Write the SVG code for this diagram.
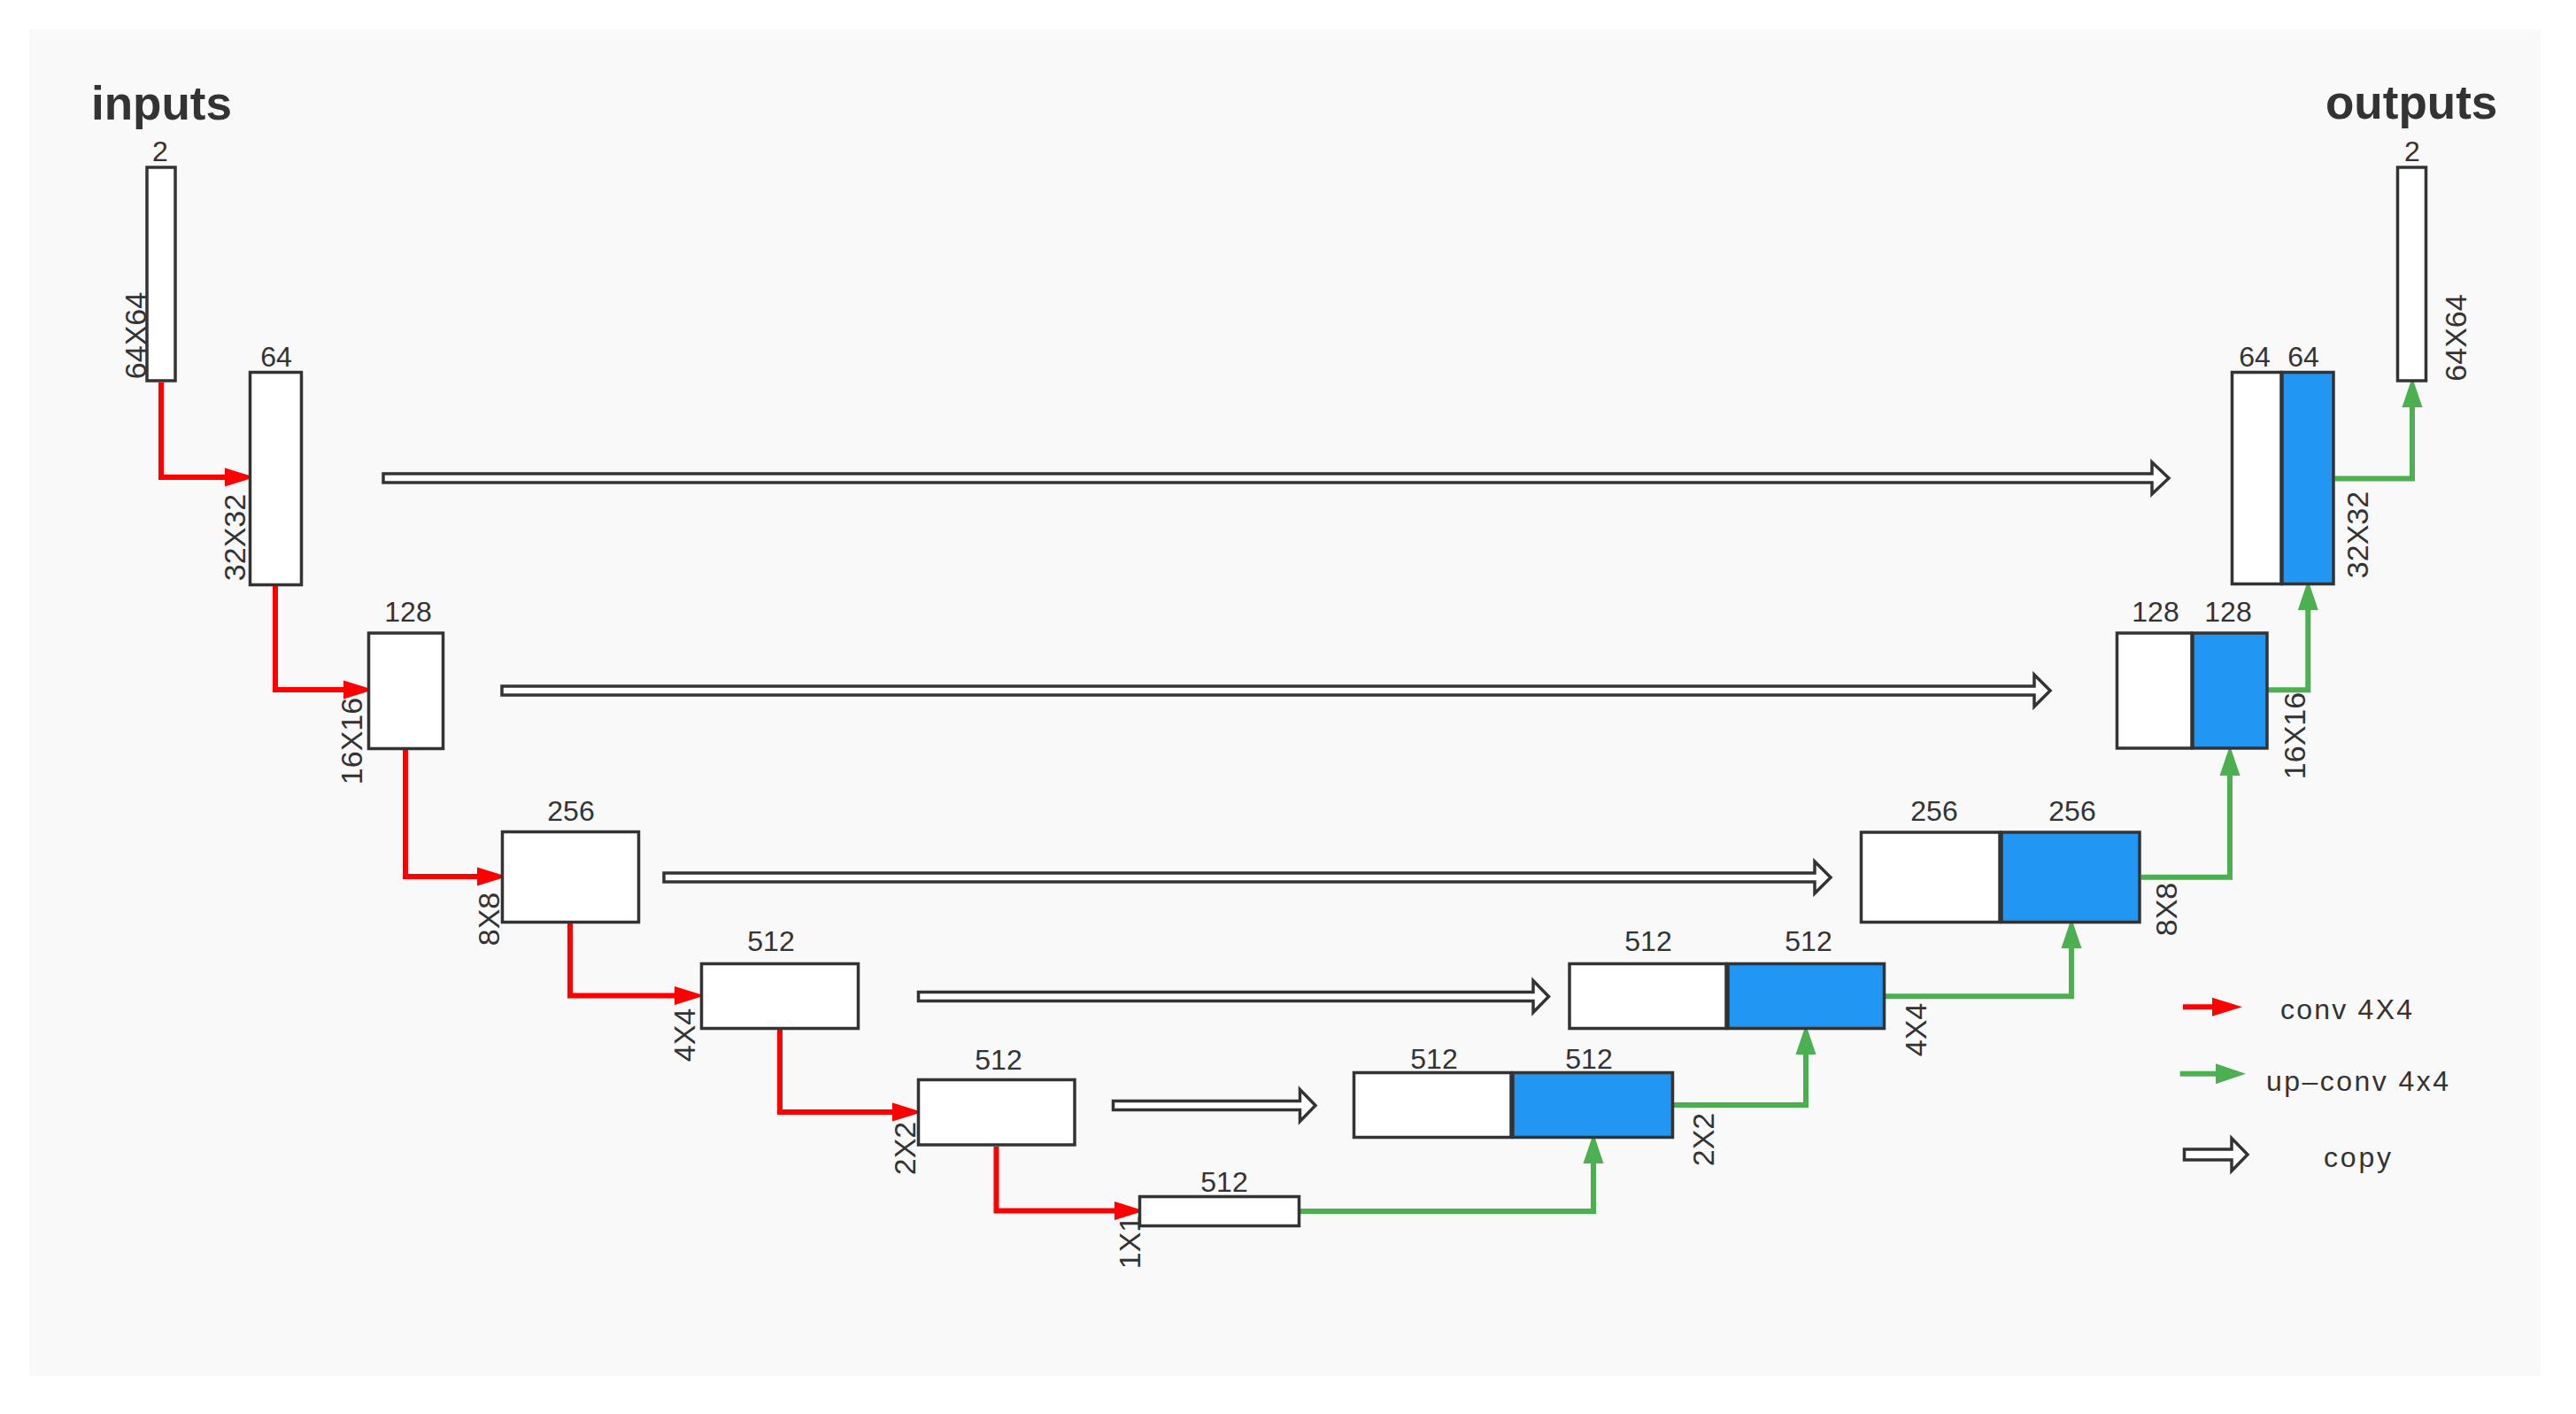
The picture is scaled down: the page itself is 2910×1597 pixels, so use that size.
<svg xmlns="http://www.w3.org/2000/svg" width="2910" height="1597" viewBox="0 0 2910 1597">
<style>
.panel{fill:#f9f9f9}
.box{fill:#ffffff;stroke:#333333;stroke-width:3.5}
.blue{fill:#2196f3;stroke:#333333;stroke-width:3.5}
.lbl{font-family:"Liberation Sans",Arial,sans-serif;font-size:32px;fill:#333333;text-anchor:middle}
.dim{font-family:"Liberation Sans",Arial,sans-serif;font-size:34px;fill:#333333;text-anchor:middle}
.title{font-family:"Liberation Sans",Arial,sans-serif;font-size:53px;font-weight:bold;fill:#333333}
.leg{font-family:"Liberation Sans",Arial,sans-serif;font-size:32px;fill:#333333}
.red{fill:none;stroke:#ff0000;stroke-width:6;stroke-linejoin:miter}
.green{fill:none;stroke:#4caf50;stroke-width:6;stroke-linejoin:miter}
.copy{fill:#ffffff;stroke:#333333;stroke-width:3.5;stroke-linejoin:miter}
</style>
<defs>
<marker id="redHead" markerUnits="userSpaceOnUse" markerWidth="40" markerHeight="30" viewBox="-2 -15 40 30" refX="0" refY="0" orient="auto">
<path d="M-1,-10.5 L33,0 L-1,10.5 z" fill="#ff0000"/>
</marker>
<marker id="greenHead" markerUnits="userSpaceOnUse" markerWidth="40" markerHeight="30" viewBox="-2 -15 40 30" refX="0" refY="0" orient="auto">
<path d="M-1,-11.5 L33,0 L-1,11.5 z" fill="#4caf50"/>
</marker>
</defs>

<rect class="panel" x="33" y="33" width="2837" height="1521"/>

<text class="title" x="103" y="135">inputs</text>
<text class="title" x="2627" y="134">outputs</text>

<g id="connectors">
<path class="red" d="M182,432 V539 H255" marker-end="url(#redHead)"/>
<path class="red" d="M311,662 V779 H389" marker-end="url(#redHead)"/>
<path class="red" d="M458,847 V990 H540" marker-end="url(#redHead)"/>
<path class="red" d="M644,1043 V1124.5 H763" marker-end="url(#redHead)"/>
<path class="red" d="M881,1163 V1256 H1009" marker-end="url(#redHead)"/>
<path class="red" d="M1125.5,1295 V1367.5 H1260" marker-end="url(#redHead)"/>

<path class="green" d="M1469,1368 H1800 V1313" marker-end="url(#greenHead)"/>
<path class="green" d="M1891,1248 H2040 V1190" marker-end="url(#greenHead)"/>
<path class="green" d="M2130,1125.3 H2340 V1070" marker-end="url(#greenHead)"/>
<path class="green" d="M2419,990.7 H2519 V875" marker-end="url(#greenHead)"/>
<path class="green" d="M2562,779.3 H2607.3 V688" marker-end="url(#greenHead)"/>
<path class="green" d="M2637.5,540.5 H2725 V459" marker-end="url(#greenHead)"/>

<polygon class="copy" points="433,535 2431,535 2431,522 2450,540 2431,558 2431,545 433,545"/>
<polygon class="copy" points="567,775 2298,775 2298,762 2316,780 2298,798 2298,785 567,785"/>
<polygon class="copy" points="750,986 2050,986 2050,973 2068,991 2050,1009 2050,996 750,996"/>
<polygon class="copy" points="1037.5,1120.5 1732,1120.5 1732,1107.5 1749.5,1125.5 1732,1143.5 1732,1130.5 1037.5,1130.5"/>
<polygon class="copy" points="1257.5,1243.5 1468.5,1243.5 1468.5,1230.5 1486,1248.5 1468.5,1266.5 1468.5,1253.5 1257.5,1253.5"/>
</g>

<g id="input">
<rect class="box" x="166" y="189" width="32" height="241"/>
<text class="lbl" x="181" y="182">2</text>
<text class="dim" transform="translate(164.6,379) rotate(-90)">64X64</text>
</g>

<g id="enc1">
<rect class="box" x="282.5" y="420.5" width="58" height="240"/>
<text class="lbl" x="312" y="414">64</text>
<text class="dim" transform="translate(277,607) rotate(-90)">32X32</text>
</g>

<g id="enc2">
<rect class="box" x="416.5" y="715" width="84" height="130.5"/>
<text class="lbl" x="461" y="702">128</text>
<text class="dim" transform="translate(409,837) rotate(-90)">16X16</text>
</g>

<g id="enc3">
<rect class="box" x="567.5" y="939.5" width="154" height="102"/>
<text class="lbl" x="645" y="927">256</text>
<text class="dim" transform="translate(564,1038) rotate(-90)">8X8</text>
</g>

<g id="enc4">
<rect class="box" x="792.5" y="1088.5" width="177" height="73"/>
<text class="lbl" x="871" y="1074">512</text>
<text class="dim" transform="translate(785,1169) rotate(-90)">4X4</text>
</g>

<g id="enc5">
<rect class="box" x="1037.5" y="1219.5" width="176.5" height="73.5"/>
<text class="lbl" x="1128" y="1208">512</text>
<text class="dim" transform="translate(1033.7,1297) rotate(-90)">2X2</text>
</g>

<g id="bottleneck">
<rect class="box" x="1287.5" y="1351.5" width="180" height="33"/>
<text class="lbl" x="1383" y="1345.5">512</text>
<text class="dim" transform="translate(1287.5,1403) rotate(-90)">1X1</text>
</g>

<g id="dec5">
<rect class="box" x="1529.5" y="1211.5" width="177.5" height="73"/>
<rect class="blue" x="1709" y="1211.5" width="180.5" height="73"/>
<text class="lbl" x="1620" y="1207">512</text>
<text class="lbl" x="1795" y="1207">512</text>
<text class="dim" transform="translate(1936,1287) rotate(-90)">2X2</text>
</g>

<g id="dec4">
<rect class="box" x="1773" y="1088.5" width="177" height="73"/>
<rect class="blue" x="1952" y="1088.5" width="176.5" height="73"/>
<text class="lbl" x="1862" y="1074">512</text>
<text class="lbl" x="2043" y="1074">512</text>
<text class="dim" transform="translate(2176,1163) rotate(-90)">4X4</text>
</g>

<g id="dec3">
<rect class="box" x="2102.5" y="940" width="156.5" height="101.5"/>
<rect class="blue" x="2261" y="940" width="156" height="101.5"/>
<text class="lbl" x="2185" y="927">256</text>
<text class="lbl" x="2341" y="927">256</text>
<text class="dim" transform="translate(2459.3,1027) rotate(-90)">8X8</text>
</g>

<g id="dec2">
<rect class="box" x="2391.5" y="715" width="84.5" height="130"/>
<rect class="blue" x="2477" y="715" width="84" height="130"/>
<text class="lbl" x="2435" y="702">128</text>
<text class="lbl" x="2517" y="702">128</text>
<text class="dim" transform="translate(2604,831) rotate(-90)">16X16</text>
</g>

<g id="dec1">
<rect class="box" x="2521.5" y="420.5" width="55.5" height="239"/>
<rect class="blue" x="2578" y="420.5" width="58" height="239"/>
<text class="lbl" x="2547" y="414">64</text>
<text class="lbl" x="2602" y="414">64</text>
<text class="dim" transform="translate(2675,604) rotate(-90)">32X32</text>
</g>

<g id="output">
<rect class="box" x="2708.5" y="189" width="32" height="241"/>
<text class="lbl" x="2725" y="182">2</text>
<text class="dim" transform="translate(2786.4,381.5) rotate(-90)">64X64</text>
</g>

<g id="legend">
<path class="red" d="M2466,1137.3 H2500" marker-end="url(#redHead)"/>
<text class="leg" x="2576" y="1151" textLength="149">conv 4X4</text>
<path class="green" d="M2462.7,1212.7 H2504" marker-end="url(#greenHead)"/>
<text class="leg" x="2560" y="1231.7" textLength="206">up–conv 4x4</text>
<polygon class="copy" points="2467.5,1298 2521,1298 2521,1285.5 2539,1304 2521,1322.5 2521,1310 2467.5,1310"/>
<text class="leg" x="2625" y="1318.3" textLength="76">copy</text>
</g>
</svg>
